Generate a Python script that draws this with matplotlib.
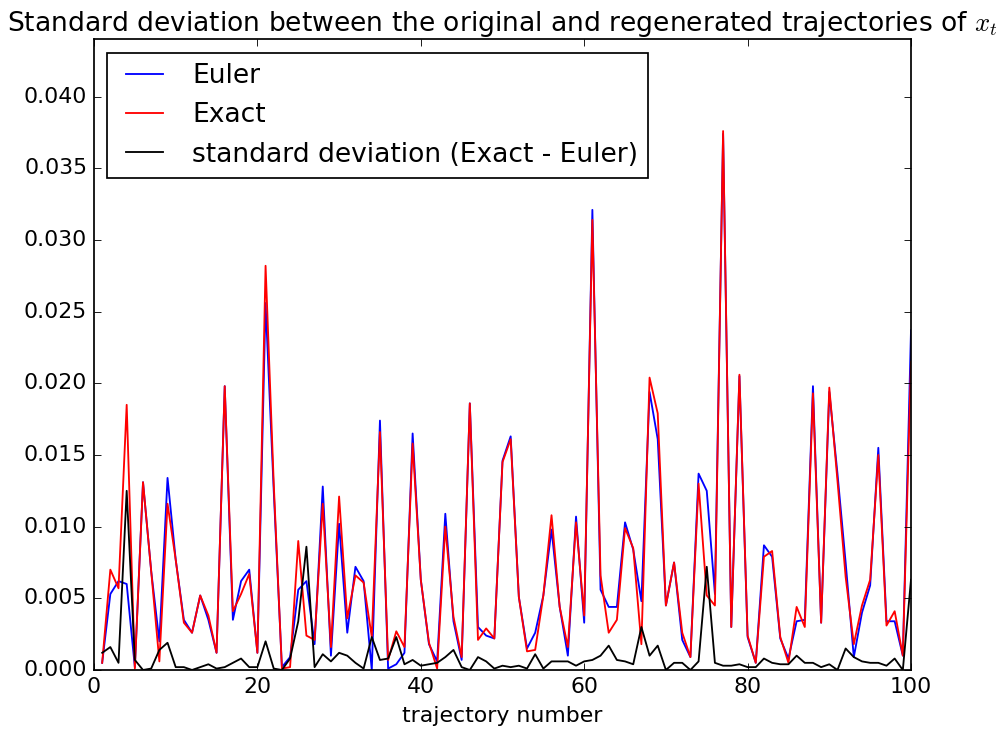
import numpy as np
import matplotlib
matplotlib.use('Agg')
import matplotlib.pyplot as plt

plt.style.use('classic')
plt.rcParams['font.size'] = 12.7
plt.rcParams['lines.linewidth'] = 1.06

trajectory = np.arange(1, 101)

euler = [0.0005, 0.0053, 0.0062, 0.0060, 0.0002, 0.0131, 0.0069, 0.0020, 0.0134, 0.0077,
         0.0035, 0.0026, 0.0052, 0.0035, 0.0012, 0.0198, 0.0035, 0.0062, 0.0070, 0.0012,
         0.0256, 0.0125, 0.0002, 0.0009, 0.0056, 0.0062, 0.0018, 0.0128, 0.0010, 0.0102,
         0.0026, 0.0072, 0.0062, 0.0000, 0.0174, 0.0001, 0.0004, 0.0012, 0.0165, 0.0063,
         0.0018, 0.0006, 0.0109, 0.0034, 0.0007, 0.0186, 0.0030, 0.0024, 0.0022, 0.0146,
         0.0163, 0.0051, 0.0015, 0.0026, 0.0052, 0.0098, 0.0044, 0.0010, 0.0107, 0.0033,
         0.0321, 0.0056, 0.0044, 0.0044, 0.0103, 0.0084, 0.0048, 0.0194, 0.0161, 0.0045,
         0.0075, 0.0021, 0.0009, 0.0137, 0.0125, 0.0053, 0.0374, 0.0030, 0.0205, 0.0023,
         0.0005, 0.0087, 0.0079, 0.0022, 0.0008, 0.0034, 0.0035, 0.0198, 0.0033, 0.0194,
         0.0137, 0.0075, 0.0009, 0.0040, 0.0059, 0.0155, 0.0034, 0.0034, 0.0010, 0.0237]

exact = [0.0005, 0.0070, 0.0057, 0.0185, 0.0001, 0.0131, 0.0069, 0.0006, 0.0116, 0.0077,
         0.0033, 0.0026, 0.0052, 0.0038, 0.0012, 0.0198, 0.0041, 0.0053, 0.0067, 0.0012,
         0.0282, 0.0130, 0.0001, 0.0002, 0.0090, 0.0024, 0.0021, 0.0116, 0.0016, 0.0121,
         0.0036, 0.0066, 0.0061, 0.0023, 0.0166, 0.0007, 0.0027, 0.0016, 0.0158, 0.0063,
         0.0019, 0.0001, 0.0100, 0.0037, 0.0009, 0.0186, 0.0021, 0.0029, 0.0022, 0.0145,
         0.0161, 0.0051, 0.0013, 0.0014, 0.0052, 0.0108, 0.0044, 0.0016, 0.0103, 0.0038,
         0.0314, 0.0066, 0.0026, 0.0035, 0.0099, 0.0085, 0.0018, 0.0204, 0.0179, 0.0045,
         0.0075, 0.0026, 0.0009, 0.0130, 0.0052, 0.0045, 0.0376, 0.0030, 0.0206, 0.0024,
         0.0005, 0.0079, 0.0083, 0.0023, 0.0005, 0.0044, 0.0030, 0.0193, 0.0033, 0.0197,
         0.0132, 0.0065, 0.0018, 0.0045, 0.0063, 0.0150, 0.0031, 0.0041, 0.0010, 0.0215]

std_diff = [0.0012, 0.0016, 0.0005, 0.0125, 0.0007, 0.0000, 0.0001, 0.0014, 0.0019, 0.0002,
            0.0002, 0.0000, 0.0002, 0.0004, 0.0001, 0.0002, 0.0005, 0.0008, 0.0002, 0.0002,
            0.0020, 0.0001, 0.0000, 0.0008, 0.0034, 0.0086, 0.0002, 0.0011, 0.0006, 0.0012,
            0.0010, 0.0005, 0.0001, 0.0023, 0.0007, 0.0008, 0.0023, 0.0004, 0.0007, 0.0003,
            0.0004, 0.0005, 0.0009, 0.0014, 0.0002, 0.0000, 0.0009, 0.0006, 0.0001, 0.0003,
            0.0002, 0.0003, 0.0001, 0.0011, 0.0001, 0.0006, 0.0006, 0.0006, 0.0003, 0.0006,
            0.0007, 0.0010, 0.0017, 0.0007, 0.0006, 0.0004, 0.0030, 0.0010, 0.0017, 0.0000,
            0.0005, 0.0005, 0.0000, 0.0006, 0.0072, 0.0005, 0.0003, 0.0003, 0.0004, 0.0002,
            0.0002, 0.0008, 0.0005, 0.0004, 0.0004, 0.0010, 0.0005, 0.0005, 0.0002, 0.0004,
            0.0000, 0.0015, 0.0009, 0.0006, 0.0005, 0.0005, 0.0003, 0.0008, 0.0000, 0.0063]

fig = plt.figure(figsize=(999 / 125, 733 / 125), dpi=125, facecolor='w')
ax = fig.add_axes([94 / 999, 1 - 670 / 733, 817 / 999, (670 - 39.3) / 733])

ax.plot(trajectory, euler, c='b', label='Euler')
ax.plot(trajectory, exact, c='r', label='Exact')
ax.plot(trajectory, std_diff, c='k', label='standard deviation (Exact - Euler)')

ax.set_xlim(0, 100)
ax.set_ylim(0, 0.044)
ax.set_yticks(np.arange(0, 0.0401, 0.005))
ax.set_xlabel('trajectory number')
ax.set_title('Standard deviation between the original and regenerated trajectories of $x_t$')
ax.legend(loc=2)

fig.savefig('out.png', dpi=125, facecolor='w')
